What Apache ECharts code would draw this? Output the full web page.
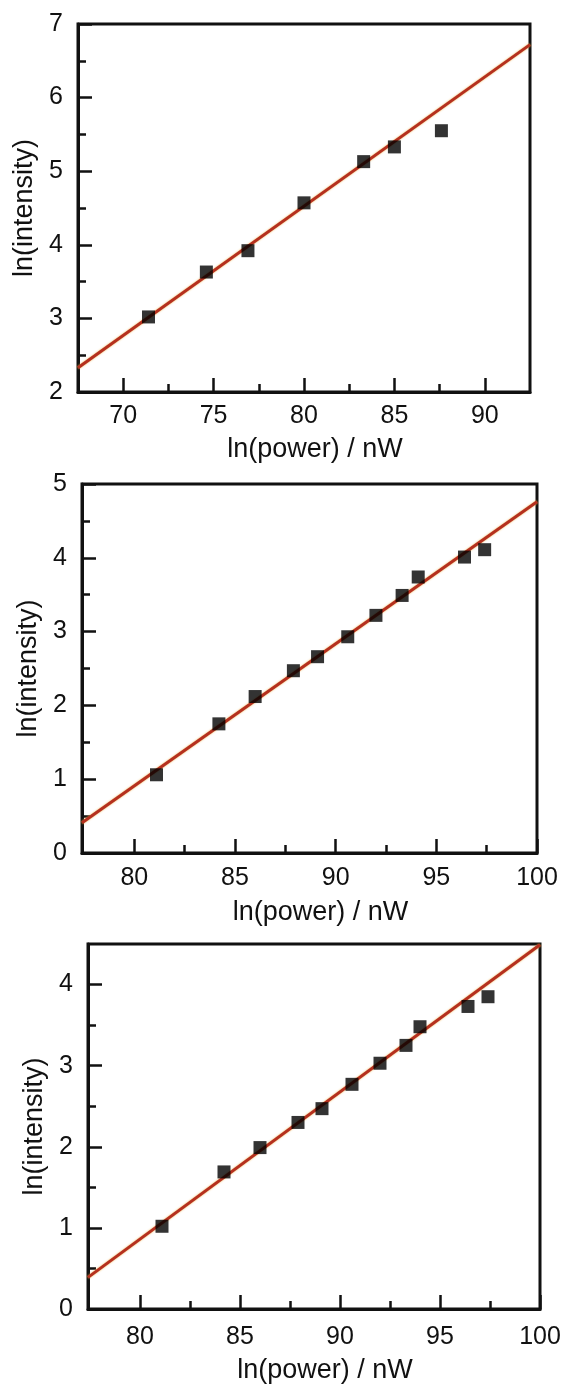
<!DOCTYPE html>
<html>
<head>
<meta charset="utf-8">
<script src="https://cdn.jsdelivr.net/npm/echarts@6/dist/echarts.min.js"></script>
<style>
  html, body { margin: 0; padding: 0; background: #fff; }
  #main { width: 571px; height: 1389px; }
</style>
</head>
<body>
<div id="main"></div>
<script>
// panel 1
const p1X = [71.4, 74.6, 76.9, 80.0, 83.3, 85.0, 87.6]
const p1Y = [3.02, 3.63, 3.92, 4.57, 5.13, 5.33, 5.55]
const fit1 = [[67.5, 2.33], [92.5, 6.72]]
// panel 2
const p2X = [81.1, 84.2, 86.0, 87.9, 89.1, 90.6, 92.0, 93.3, 94.1, 96.4, 97.4]
const p2Y = [1.06, 1.75, 2.12, 2.47, 2.66, 2.93, 3.22, 3.49, 3.74, 4.01, 4.11]
const fit2 = [[77.4, 0.41], [100, 4.76]]
// panel 3
const p3X = [81.1, 84.2, 86.0, 87.9, 89.1, 90.6, 92.0, 93.3, 94.0, 96.4, 97.4]
const p3Y = [1.02, 1.69, 1.99, 2.30, 2.47, 2.77, 3.03, 3.25, 3.48, 3.73, 3.85]
const fit3 = [[77.4, 0.39], [100, 4.49]]

// axis ranges and ticks
const xRange = [[67.5, 92.5], [77.4, 100], [77.4, 100]]
const yRange = [[2, 7], [0, 5], [0, 4.5]]
const xMajor = [[70, 75, 80, 85, 90], [80, 85, 90, 95, 100], [80, 85, 90, 95, 100]]
const xMinor = [[72.5, 77.5, 82.5, 87.5], [82.5, 87.5, 92.5, 97.5], [82.5, 87.5, 92.5, 97.5]]
const yMajor = [[2, 3, 4, 5, 6, 7], [0, 1, 2, 3, 4, 5], [0, 1, 2, 3, 4]]
const yMinor = [[2.5, 3.5, 4.5, 5.5, 6.5], [0.5, 1.5, 2.5, 3.5, 4.5], [0.5, 1.5, 2.5, 3.5]]

const xTitle = 'ln(power) / nW'
const yTitle = 'ln(intensity)'

const FONT = '"Liberation Sans", Arial, sans-serif'
const INK = '#111'

const grids = [
  { left: 78, top: 24, width: 452, height: 368 },
  { left: 82, top: 484, width: 455, height: 369 },
  { left: 88, top: 944, width: 452, height: 365 },
]
const xNameGap = [44, 46, 48]
const xLabelMargin = [12, 13, 16]

var xAxes = []
var yAxes = []
grids.forEach(function (g, i) {
  xAxes.push({
    gridIndex: i, type: 'value', position: 'bottom',
    min: xRange[i][0], max: xRange[i][1],
    axisLine: { lineStyle: { color: INK, width: 3 } },
    axisTick: { inside: true, length: 14, customValues: xMajor[i], lineStyle: { color: INK, width: 2.5 } },
    axisLabel: { customValues: xMajor[i], margin: xLabelMargin[i], fontSize: 25, color: INK, fontFamily: FONT },
    splitLine: { show: false },
    name: xTitle, nameLocation: 'middle', nameGap: xNameGap[i],
    nameTextStyle: { fontSize: 27, color: INK, fontFamily: FONT, padding: [0, 0, 0, 22] },
  })
  xAxes.push({
    gridIndex: i, type: 'value', position: 'bottom',
    min: xRange[i][0], max: xRange[i][1],
    axisLine: { show: false },
    axisTick: { inside: true, length: 8, customValues: xMinor[i], lineStyle: { color: INK, width: 2.5 } },
    axisLabel: { show: false },
    splitLine: { show: false },
  })
  yAxes.push({
    gridIndex: i, type: 'value', position: 'left',
    min: yRange[i][0], max: yRange[i][1],
    axisLine: { show: true, lineStyle: { color: INK, width: 3 } },
    axisTick: { show: true, inside: true, length: 14, customValues: yMajor[i], lineStyle: { color: INK, width: 2.5 } },
    axisLabel: { customValues: yMajor[i], margin: 15, fontSize: 25, color: INK, fontFamily: FONT },
    splitLine: { show: false },
    name: yTitle, nameLocation: 'middle', nameGap: 40,
    nameTextStyle: { fontSize: 27, color: INK, fontFamily: FONT },
  })
  yAxes.push({
    gridIndex: i, type: 'value', position: 'left',
    min: yRange[i][0], max: yRange[i][1],
    axisLine: { show: false },
    axisTick: { show: true, inside: true, length: 8, customValues: yMinor[i], lineStyle: { color: INK, width: 2.5 } },
    axisLabel: { show: false },
    splitLine: { show: false },
  })
})

function pairs(xs, ys) {
  return xs.map(function (x, k) { return [x, ys[k]] })
}

const fits = [fit1, fit2, fit3]
const points = [pairs(p1X, p1Y), pairs(p2X, p2Y), pairs(p3X, p3Y)]

var series = []
for (var i = 0; i < 3; i++) {
  series.push({
    type: 'line', xAxisIndex: 2 * i, yAxisIndex: 2 * i,
    data: fits[i], symbol: 'none', z: 2, silent: true,
    lineStyle: { color: '#b5301f', width: 3, shadowColor: 'rgba(235,170,60,0.9)', shadowBlur: 2 },
  })
  series.push({
    type: 'scatter', xAxisIndex: 2 * i, yAxisIndex: 2 * i,
    data: points[i], symbol: 'rect', symbolSize: 13, z: 3,
    itemStyle: { color: '#000' },
  })
}

var chart = echarts.init(document.getElementById('main'), null, { renderer: 'canvas' })
chart.setOption({
  backgroundColor: '#fff',
  animation: false,
  grid: grids.map(function (g) {
    return Object.assign({ show: true, borderColor: INK, borderWidth: 3, backgroundColor: 'transparent' }, g)
  }),
  xAxis: xAxes,
  yAxis: yAxes,
  series: series,
})
</script>
</body>
</html>
